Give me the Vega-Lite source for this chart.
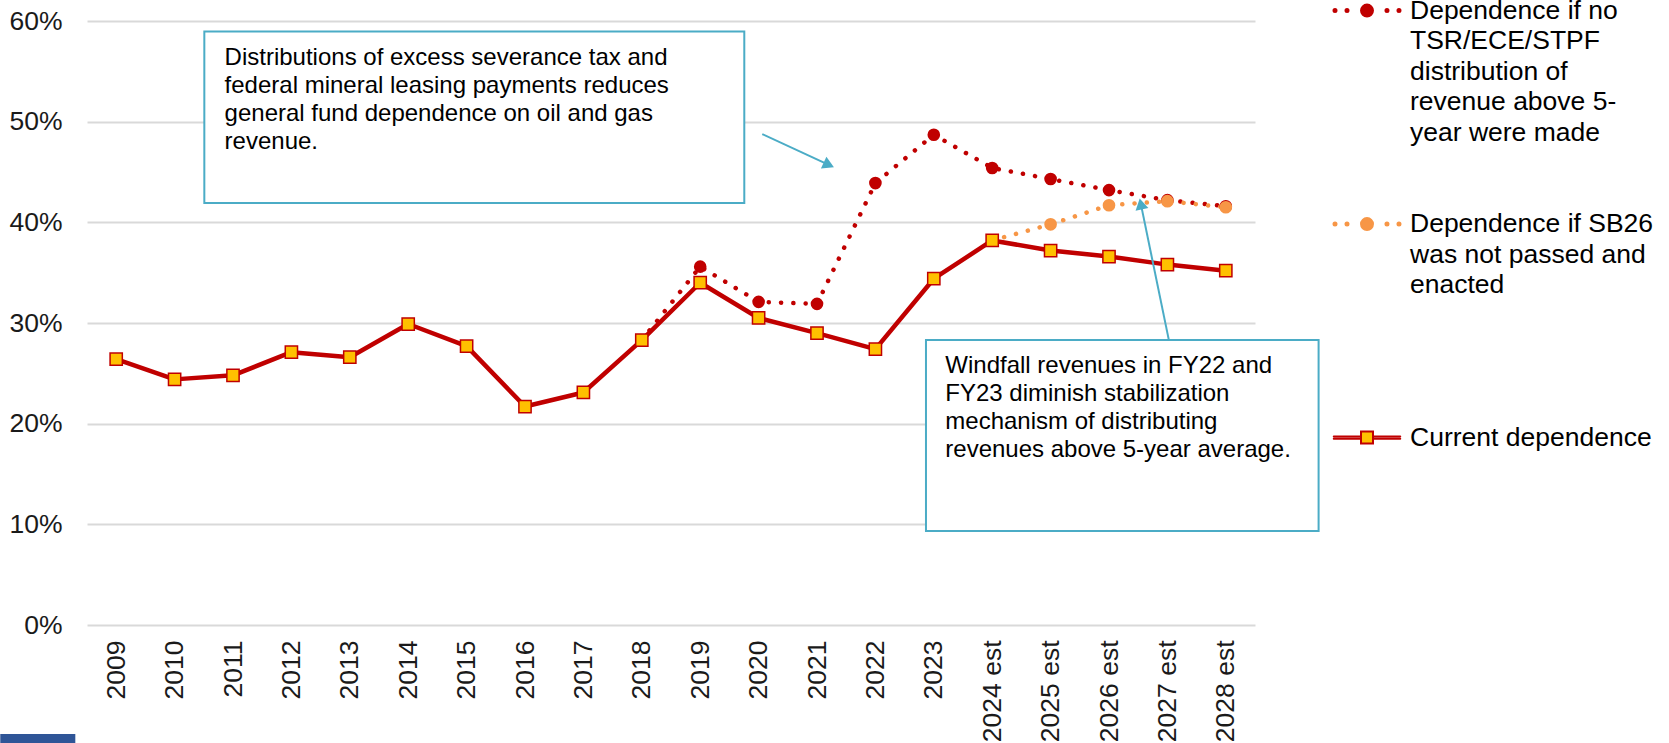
{
  "$schema": "https://vega.github.io/schema/vega-lite/v6.json",
  "width": 1168,
  "height": 604,
  "autosize": "none",
  "padding": {"left": 87, "top": 21, "right": 414, "bottom": 118},
  "background": "white",
  "config": {"font": "Liberation Sans", "view": {"stroke": null}},
  "datasets": {
    "series": [
      {"year": "2018", "series": "Dependence if no TSR/ECE/STPF distribution of revenue above 5-year were made", "value": 0.283},
      {"year": "2019", "series": "Dependence if no TSR/ECE/STPF distribution of revenue above 5-year were made", "value": 0.356},
      {"year": "2020", "series": "Dependence if no TSR/ECE/STPF distribution of revenue above 5-year were made", "value": 0.321},
      {"year": "2021", "series": "Dependence if no TSR/ECE/STPF distribution of revenue above 5-year were made", "value": 0.319},
      {"year": "2022", "series": "Dependence if no TSR/ECE/STPF distribution of revenue above 5-year were made", "value": 0.439},
      {"year": "2023", "series": "Dependence if no TSR/ECE/STPF distribution of revenue above 5-year were made", "value": 0.487},
      {"year": "2024 est", "series": "Dependence if no TSR/ECE/STPF distribution of revenue above 5-year were made", "value": 0.454},
      {"year": "2025 est", "series": "Dependence if no TSR/ECE/STPF distribution of revenue above 5-year were made", "value": 0.443},
      {"year": "2026 est", "series": "Dependence if no TSR/ECE/STPF distribution of revenue above 5-year were made", "value": 0.432},
      {"year": "2027 est", "series": "Dependence if no TSR/ECE/STPF distribution of revenue above 5-year were made", "value": 0.422},
      {"year": "2028 est", "series": "Dependence if no TSR/ECE/STPF distribution of revenue above 5-year were made", "value": 0.416},
      {"year": "2024 est", "series": "Dependence if SB26 was not passed and enacted", "value": 0.382},
      {"year": "2025 est", "series": "Dependence if SB26 was not passed and enacted", "value": 0.398},
      {"year": "2026 est", "series": "Dependence if SB26 was not passed and enacted", "value": 0.417},
      {"year": "2027 est", "series": "Dependence if SB26 was not passed and enacted", "value": 0.421},
      {"year": "2028 est", "series": "Dependence if SB26 was not passed and enacted", "value": 0.415},
      {"year": "2009", "series": "Current dependence", "value": 0.264},
      {"year": "2010", "series": "Current dependence", "value": 0.244},
      {"year": "2011", "series": "Current dependence", "value": 0.248},
      {"year": "2012", "series": "Current dependence", "value": 0.271},
      {"year": "2013", "series": "Current dependence", "value": 0.266},
      {"year": "2014", "series": "Current dependence", "value": 0.299},
      {"year": "2015", "series": "Current dependence", "value": 0.277},
      {"year": "2016", "series": "Current dependence", "value": 0.217},
      {"year": "2017", "series": "Current dependence", "value": 0.231},
      {"year": "2018", "series": "Current dependence", "value": 0.283},
      {"year": "2019", "series": "Current dependence", "value": 0.340},
      {"year": "2020", "series": "Current dependence", "value": 0.305},
      {"year": "2021", "series": "Current dependence", "value": 0.290},
      {"year": "2022", "series": "Current dependence", "value": 0.274},
      {"year": "2023", "series": "Current dependence", "value": 0.344},
      {"year": "2024 est", "series": "Current dependence", "value": 0.382},
      {"year": "2025 est", "series": "Current dependence", "value": 0.372},
      {"year": "2026 est", "series": "Current dependence", "value": 0.366},
      {"year": "2027 est", "series": "Current dependence", "value": 0.358},
      {"year": "2028 est", "series": "Current dependence", "value": 0.352}
    ],
    "boxes": [
      {"ax": 1.509, "ax2": 10.755, "ay": 0.5896, "ay2": 0.4192},
      {"ax": 13.866, "ax2": 20.589, "ay": 0.2831, "ay2": 0.0934}
    ],
    "notes": [
      {"ax": 1.856, "ay": 0.5563, "note": "Distributions of excess severance tax and\nfederal mineral leasing payments reduces\ngeneral fund dependence on oil and gas\nrevenue."},
      {"ax": 14.197, "ay": 0.2506, "note": "Windfall revenues in FY22 and\nFY23 diminish stabilization\nmechanism of distributing\nrevenues above 5-year average."}
    ],
    "arrows": [
      {"arrow": 1, "ax": 11.063, "ay": 0.4877, "ax2": 12.202, "ay2": 0.4570},
      {"arrow": 2, "ax": 18.027, "ay": 0.2825, "ax2": 17.545, "ay2": 0.4183}
    ],
    "footer": [
      {"ax": -1.985, "ax2": -0.70, "ay": -0.1083, "ay2": -0.2}
    ]
  },
  "resolve": {
    "scale": {"x": "independent", "y": "independent"},
    "axis": {"x": "independent", "y": "independent"}
  },
  "layer": [
    {
      "data": {"name": "series"},
      "encoding": {
        "x": {
          "field": "year", "type": "ordinal",
          "scale": {"type": "point", "padding": 0.5, "domain": ["2009","2010","2011","2012","2013","2014","2015","2016","2017","2018","2019","2020","2021","2022","2023","2024 est","2025 est","2026 est","2027 est","2028 est"]},
          "axis": {"title": null, "labelAngle": -90, "labelAlign": "right", "labelBaseline": "middle", "labelPadding": 15, "labelFontSize": 26.5, "labelColor": "#1a1a1a", "domain": false, "ticks": false, "grid": false, "labelOverlap": false, "labelLimit": 300}
        },
        "y": {
          "field": "value", "type": "quantitative",
          "scale": {"domain": [0, 0.6], "nice": false, "zero": false},
          "axis": {"title": null, "format": ".0%", "values": [0, 0.1, 0.2, 0.3, 0.4, 0.5, 0.6], "domain": false, "ticks": false, "labelFontSize": 26.5, "labelPadding": 25, "labelColor": "#1a1a1a", "grid": true, "gridColor": "#D9D9D9", "gridWidth": 2}
        }
      },
      "layer": [
        {
          "transform": [{"filter": "datum.series != 'Current dependence'"}],
          "mark": {"type": "line", "strokeWidth": 4.5, "strokeDash": [0.1, 12.2], "strokeCap": "round"},
          "encoding": {
            "color": {
              "field": "series", "type": "nominal",
              "scale": {"domain": ["Dependence if no TSR/ECE/STPF distribution of revenue above 5-year were made", "Dependence if SB26 was not passed and enacted", "Current dependence"], "range": ["#C00000", "#F79646", "#C00000"]},
              "legend": {
                "orient": "none", "legendX": 1244, "legendY": -46.4, "title": null, "padding": 0,
                "symbolSize": 4900, "symbolStrokeWidth": 2,
                "labelFontSize": 26.5, "labelLimit": 500, "labelOffset": 7, "rowPadding": 11.5, "labelColor": "#000000",
                "labelExpr": "test(/TSR/, datum.value) ? ['Dependence if no', 'TSR/ECE/STPF', 'distribution of', 'revenue above 5-', 'year were made', ''] : test(/SB26/, datum.value) ? ['Dependence if SB26', 'was not passed and', 'enacted', '', '', ''] : datum.label",
                "encode": {
                  "symbols": {"update": {
                    "shape": {"signal": "datum.value == 'Current dependence' ? 'M-0.95,-0.03H-0.171 M-0.95,0.03H-0.171 M0.171,-0.03H0.95 M0.171,0.03H0.95 M-0.171,-0.171H0.171V0.171H-0.171Z' : 'M-0.871,0C-0.871,0.0237 -0.8903,0.043 -0.914,0.043C-0.9377,0.043 -0.957,0.0237 -0.957,0C-0.957,-0.0237 -0.9377,-0.043 -0.914,-0.043C-0.8903,-0.043 -0.871,-0.0237 -0.871,0Z M-0.528,0C-0.528,0.0237 -0.5473,0.043 -0.571,0.043C-0.5947,0.043 -0.614,0.0237 -0.614,0C-0.614,-0.0237 -0.5947,-0.043 -0.571,-0.043C-0.5473,-0.043 -0.528,-0.0237 -0.528,0Z M0.171,0C0.171,0.0944 0.0944,0.171 0,0.171C-0.0944,0.171 -0.171,0.0944 -0.171,0C-0.171,-0.0944 -0.0944,-0.171 0,-0.171C0.0944,-0.171 0.171,-0.0944 0.171,0Z M0.614,0C0.614,0.0237 0.5947,0.043 0.571,0.043C0.5473,0.043 0.528,0.0237 0.528,0C0.528,-0.0237 0.5473,-0.043 0.571,-0.043C0.5947,-0.043 0.614,-0.0237 0.614,0Z M0.957,0C0.957,0.0237 0.9377,0.043 0.914,0.043C0.8903,0.043 0.871,0.0237 0.871,0C0.871,-0.0237 0.8903,-0.043 0.914,-0.043C0.9377,-0.043 0.957,-0.0237 0.957,0Z'"},
                    "size": {"value": 4900},
                    "fill": {"signal": "datum.value == 'Current dependence' ? '#FFC000' : scale('color', datum.value)"},
                    "fillOpacity": {"value": 1},
                    "strokeWidth": {"value": 2},
                    "strokeCap": {"value": "round"},
                    "strokeDash": {"value": []},
                    "opacity": {"value": 1}
                  }},
                  "labels": {"update": {"lineHeight": {"value": 30.5}}}
                }
              }
            }
          }
        },
        {
          "transform": [{"filter": "datum.series != 'Current dependence' && !(datum.year == '2018' && test(/TSR/, datum.series)) && !(datum.year == '2024 est' && test(/SB26/, datum.series))"}],
          "mark": {"type": "point", "shape": "circle", "filled": true, "size": 160, "opacity": 1},
          "encoding": {
            "fill": {
              "field": "series", "type": "nominal",
              "scale": {"domain": ["Dependence if no TSR/ECE/STPF distribution of revenue above 5-year were made", "Dependence if SB26 was not passed and enacted"], "range": ["#C00000", "#F79646"]},
              "legend": null
            }
          }
        },
        {
          "transform": [{"filter": "datum.series == 'Current dependence'"}],
          "mark": {"type": "line", "strokeWidth": 4.5, "strokeJoin": "round"},
          "encoding": {
            "color": {
              "field": "series", "type": "nominal",
              "legend": {
                "orient": "none", "legendX": 1244, "legendY": -46.4, "title": null, "padding": 0,
                "symbolSize": 4900, "symbolStrokeWidth": 2,
                "labelFontSize": 26.5, "labelLimit": 500, "labelOffset": 7, "rowPadding": 11.5, "labelColor": "#000000",
                "labelExpr": "test(/TSR/, datum.value) ? ['Dependence if no', 'TSR/ECE/STPF', 'distribution of', 'revenue above 5-', 'year were made', ''] : test(/SB26/, datum.value) ? ['Dependence if SB26', 'was not passed and', 'enacted', '', '', ''] : datum.label",
                "encode": {
                  "symbols": {"update": {
                    "shape": {"signal": "datum.value == 'Current dependence' ? 'M-0.95,-0.03H-0.171 M-0.95,0.03H-0.171 M0.171,-0.03H0.95 M0.171,0.03H0.95 M-0.171,-0.171H0.171V0.171H-0.171Z' : 'M-0.871,0C-0.871,0.0237 -0.8903,0.043 -0.914,0.043C-0.9377,0.043 -0.957,0.0237 -0.957,0C-0.957,-0.0237 -0.9377,-0.043 -0.914,-0.043C-0.8903,-0.043 -0.871,-0.0237 -0.871,0Z M-0.528,0C-0.528,0.0237 -0.5473,0.043 -0.571,0.043C-0.5947,0.043 -0.614,0.0237 -0.614,0C-0.614,-0.0237 -0.5947,-0.043 -0.571,-0.043C-0.5473,-0.043 -0.528,-0.0237 -0.528,0Z M0.171,0C0.171,0.0944 0.0944,0.171 0,0.171C-0.0944,0.171 -0.171,0.0944 -0.171,0C-0.171,-0.0944 -0.0944,-0.171 0,-0.171C0.0944,-0.171 0.171,-0.0944 0.171,0Z M0.614,0C0.614,0.0237 0.5947,0.043 0.571,0.043C0.5473,0.043 0.528,0.0237 0.528,0C0.528,-0.0237 0.5473,-0.043 0.571,-0.043C0.5947,-0.043 0.614,-0.0237 0.614,0Z M0.957,0C0.957,0.0237 0.9377,0.043 0.914,0.043C0.8903,0.043 0.871,0.0237 0.871,0C0.871,-0.0237 0.8903,-0.043 0.914,-0.043C0.9377,-0.043 0.957,-0.0237 0.957,0Z'"},
                    "size": {"value": 4900},
                    "fill": {"signal": "datum.value == 'Current dependence' ? '#FFC000' : scale('color', datum.value)"},
                    "fillOpacity": {"value": 1},
                    "strokeWidth": {"value": 2},
                    "strokeCap": {"value": "round"},
                    "strokeDash": {"value": []},
                    "opacity": {"value": 1}
                  }},
                  "labels": {"update": {"lineHeight": {"value": 30.5}}}
                }
              }
            }
          }
        },
        {
          "transform": [{"filter": "datum.series == 'Current dependence'"}],
          "mark": {"type": "point", "shape": "square", "filled": true, "fill": "#FFC000", "stroke": "#C00000", "strokeWidth": 1.5, "size": 150, "opacity": 1},
          "encoding": {}
        }
      ]
    },
    {
      "layer": [
        {
          "data": {"name": "boxes"},
          "mark": {"type": "rect", "fill": "white", "stroke": "#4BACC6", "strokeWidth": 2},
          "encoding": {
            "x": {"field": "ax", "type": "quantitative", "scale": {"domain": [-0.5, 19.5], "nice": false, "zero": false}, "axis": null},
            "x2": {"field": "ax2"},
            "y": {"field": "ay", "type": "quantitative", "scale": {"domain": [0, 0.6], "nice": false, "zero": false}, "axis": null},
            "y2": {"field": "ay2"}
          }
        },
        {
          "data": {"name": "notes"},
          "mark": {"type": "text", "align": "left", "baseline": "alphabetic", "fontSize": 24, "lineHeight": 28, "lineBreak": "\n", "color": "#000000"},
          "encoding": {
            "x": {"field": "ax", "type": "quantitative", "scale": {"domain": [-0.5, 19.5], "nice": false, "zero": false}, "axis": null},
            "y": {"field": "ay", "type": "quantitative", "scale": {"domain": [0, 0.6], "nice": false, "zero": false}, "axis": null},
            "text": {"field": "note"}
          }
        },
        {
          "data": {"name": "arrows"},
          "mark": {"type": "rule", "stroke": "#4BACC6", "strokeWidth": 2},
          "encoding": {
            "x": {"field": "ax", "type": "quantitative", "scale": {"domain": [-0.5, 19.5], "nice": false, "zero": false}, "axis": null},
            "x2": {"field": "ax2"},
            "y": {"field": "ay", "type": "quantitative", "scale": {"domain": [0, 0.6], "nice": false, "zero": false}, "axis": null},
            "y2": {"field": "ay2"}
          }
        },
        {
          "data": {"name": "arrows"},
          "transform": [{"filter": "datum.arrow == 1"}],
          "mark": {"type": "point", "shape": "triangle-right", "angle": 24.9, "filled": true, "fill": "#4BACC6", "size": 170, "opacity": 1},
          "encoding": {
            "x": {"field": "ax2", "type": "quantitative", "scale": {"domain": [-0.5, 19.5], "nice": false, "zero": false}, "axis": null},
            "y": {"field": "ay2", "type": "quantitative", "scale": {"domain": [0, 0.6], "nice": false, "zero": false}, "axis": null}
          }
        },
        {
          "data": {"name": "arrows"},
          "transform": [{"filter": "datum.arrow == 2"}],
          "mark": {"type": "point", "shape": "triangle-right", "angle": 258.3, "filled": true, "fill": "#4BACC6", "size": 170, "opacity": 1},
          "encoding": {
            "x": {"field": "ax2", "type": "quantitative", "scale": {"domain": [-0.5, 19.5], "nice": false, "zero": false}, "axis": null},
            "y": {"field": "ay2", "type": "quantitative", "scale": {"domain": [0, 0.6], "nice": false, "zero": false}, "axis": null}
          }
        },
        {
          "data": {"name": "footer"},
          "mark": {"type": "rect", "fill": "#2F5597"},
          "encoding": {
            "x": {"field": "ax", "type": "quantitative", "scale": {"domain": [-0.5, 19.5], "nice": false, "zero": false}, "axis": null},
            "x2": {"field": "ax2"},
            "y": {"field": "ay", "type": "quantitative", "scale": {"domain": [0, 0.6], "nice": false, "zero": false}, "axis": null},
            "y2": {"field": "ay2"}
          }
        }
      ]
    }
  ]
}
